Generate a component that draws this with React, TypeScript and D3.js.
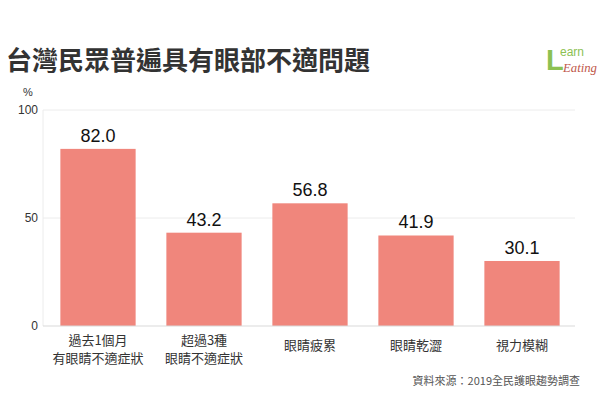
import React from "react";
import * as d3 from "d3";

const categories = ["過去1個月\n有眼睛不適症狀", "超過3種\n眼睛不適症狀", "眼睛疲累", "眼睛乾澀", "視力模糊"];
const values = [82.0, 43.2, 56.8, 41.9, 30.1];
const yTicks = [0, 50, 100];

const W = 600, H = 404;
const left = 45, right = 575, top = 110, bottom = 326;

export default function App() {
  const x = d3.scaleBand<number>().domain(d3.range(categories.length)).range([left, right]).paddingInner(0.29).paddingOuter(0.145);
  const y = d3.scaleLinear().domain([0, 100]).range([bottom, top]);
  const font = "'Noto Sans CJK TC', 'Noto Sans', sans-serif";
  return (
    <svg width={W} height={H} style={{ position: "absolute", left: 0, top: 0, background: "#fff" }} fontFamily={font}>
      <rect width={W} height={H} fill="#fff" />
      <text x={6} y={70} fontSize={26} fontWeight={700} fill="#333">台灣民眾普遍具有眼部不適問題</text>
      {/* logo */}
      <g>
        <text x={546} y={70} fontSize={29} fontWeight={700} fill="#8cc152" fontFamily="'Liberation Sans', sans-serif">L</text>
        <text x={560} y={56} fontSize={12} fill="#8cc152" fontFamily="'Liberation Sans', sans-serif">earn</text>
        <text x={563} y={72} fontSize={12} fontStyle="italic" fill="#c0574a" fontFamily="'Liberation Serif', serif" textLength={34} lengthAdjust="spacingAndGlyphs">Eating</text>
      </g>
      <text x={28} y={96} fontSize={11} textAnchor="middle" fill="#333" fontFamily="'Liberation Sans', sans-serif">%</text>
      {yTicks.map(t => (
        <g key={t}>
          {t > 0 && <line x1={left - 2} x2={right} y1={y(t)} y2={y(t)} stroke="#ececec" strokeWidth={1} />}
          <text x={38} y={y(t) + 4} fontSize={12} textAnchor="end" fill="#333" fontFamily="'Liberation Sans', 'DejaVu Sans', sans-serif">{t}</text>
        </g>
      ))}
      <line x1={left - 2} x2={left - 2} y1={top} y2={bottom} stroke="#ececec" />
      {values.map((v, i) => (
        <g key={i}>
          <rect x={x(i)} y={y(v)} width={x.bandwidth()} height={bottom - y(v)} fill="#f0867c" />
          <text x={(x(i) as number) + x.bandwidth() / 2} y={y(v) - 7} fontSize={18} textAnchor="middle" fill="#111" fontFamily="'Liberation Sans', 'DejaVu Sans', sans-serif">{v.toFixed(1)}</text>
        </g>
      ))}
      <line x1={left - 2} x2={right} y1={bottom} y2={bottom} stroke="#d9d9d9" />
      {categories.map((c, i) => {
        const lines = c.split("\n");
        const cx = (x(i) as number) + x.bandwidth() / 2;
        return (
          <text key={i} x={cx} fontSize={13} textAnchor="middle" fill="#333">
            {lines.map((l, j) => (
              <tspan key={j} x={cx} y={lines.length === 1 ? 350 : 345 + j * 18}>{l}</tspan>
            ))}
          </text>
        );
      })}
      <text x={580} y={385} fontSize={11} textAnchor="end" fill="#555">資料來源：2019全民護眼趨勢調查</text>
    </svg>
  );
}
